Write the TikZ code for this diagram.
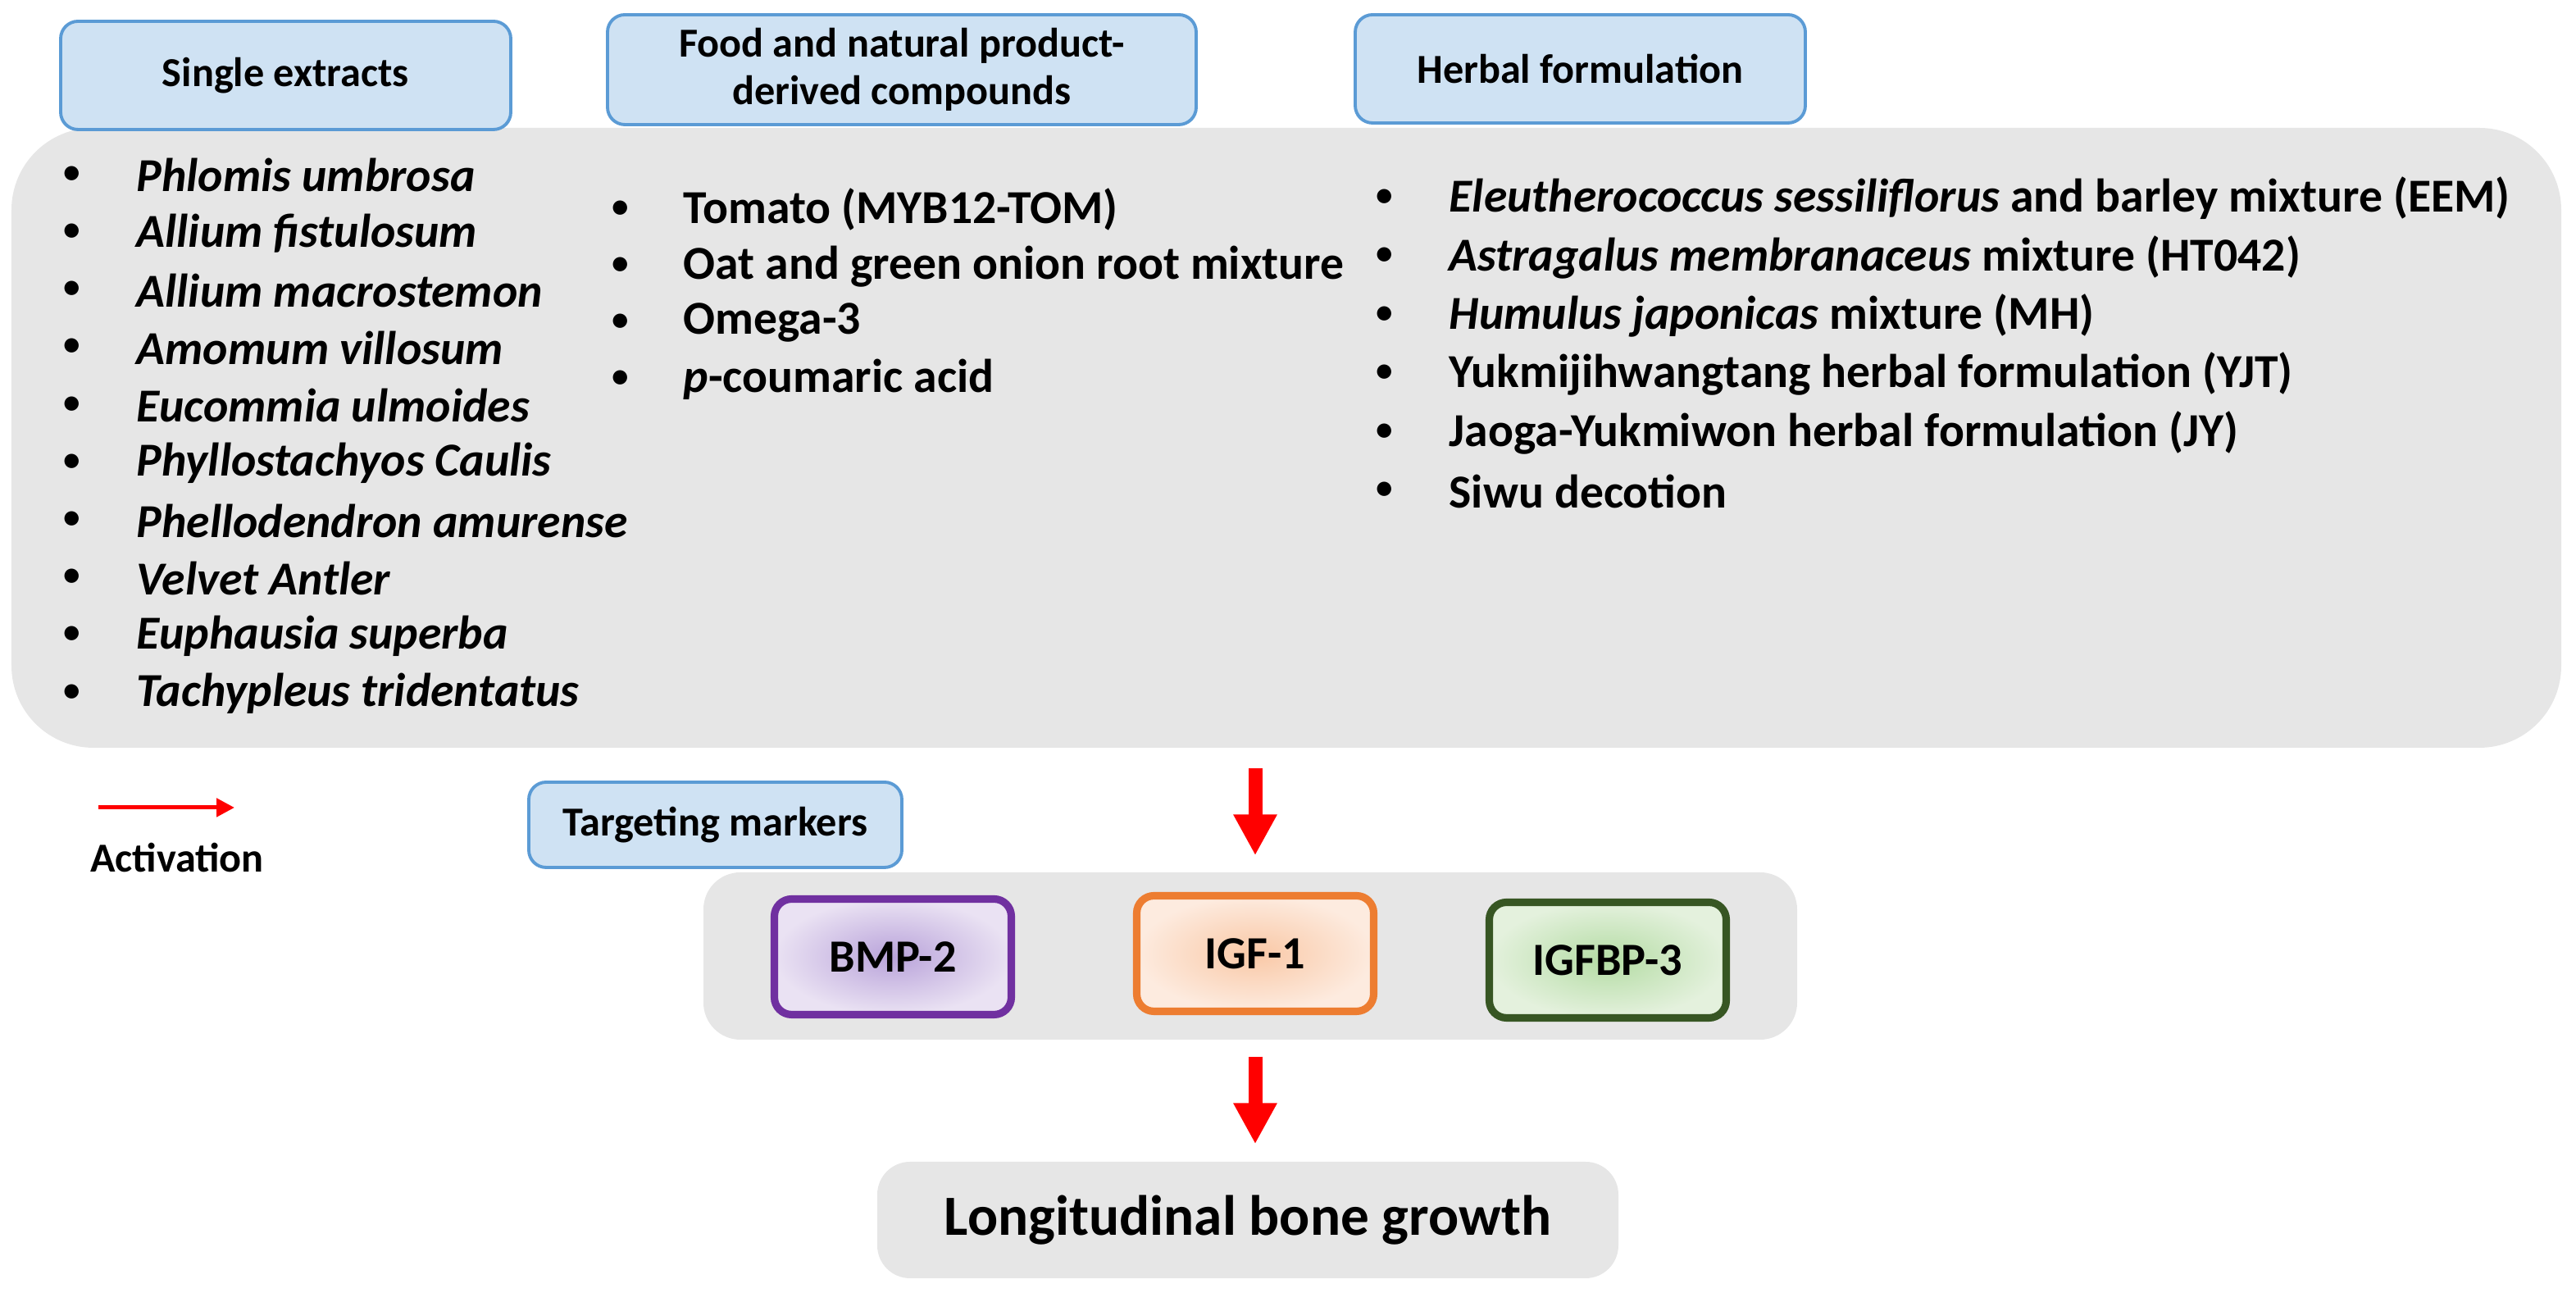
\documentclass[tikz,border=0pt]{standalone}
\usepackage{fontspec}
\setmainfont{Carlito}
\usetikzlibrary{arrows.meta,positioning}
\definecolor{headfill}{HTML}{CFE2F3}
\definecolor{headbd}{HTML}{5B9BD5}
\definecolor{panelgray}{HTML}{E6E6E6}
\definecolor{bmpbd}{HTML}{7030A0}
\definecolor{bmpin}{HTML}{B9A3DA}
\definecolor{bmpout}{HTML}{EAE2F3}
\definecolor{igfbd}{HTML}{ED7D31}
\definecolor{igfin}{HTML}{F9C8A6}
\definecolor{igfout}{HTML}{FDEBDF}
\definecolor{bpbd}{HTML}{375623}
\definecolor{bpin}{HTML}{B4DCA4}
\definecolor{bpout}{HTML}{E4F1DD}

\begin{document}
\begin{tikzpicture}[
  head/.style={draw=headbd,fill=headfill,line width=1.1pt,rounded corners=6pt,
    font=\fontsize{14.3}{16.5}\selectfont\bfseries,align=center,inner sep=0pt},
  pool/.style={fill=panelgray,rounded corners=1cm,inner sep=0pt},
  item/.style={anchor=west,font=\fontsize{16.4}{16.4}\selectfont\bfseries,inner sep=0pt},
  dot/.style={font=\fontsize{14}{14}\selectfont,inner sep=0pt},
  marker/.style={line width=2.6pt,rounded corners=6pt,shading=radial,
    minimum width=2.89cm,minimum height=1.41cm,inner sep=0pt,
    font=\fontsize{16}{16}\selectfont\bfseries},
  act/.style={red,line width=0.17cm,-{Triangle[width=0.5cm,length=0.5cm]}},
  actkey/.style={red,line width=0.05cm,-{Triangle[width=0.22cm,length=0.22cm]}}
]
  \useasboundingbox (0,0) rectangle (31.42,15.77);
  % Big panel of agents
  \node[pool,minimum width=31.1cm,minimum height=7.56cm] (agents) at (15.69,10.43) {};
  % Headers
  \node[head,minimum width=5.49cm,minimum height=1.32cm] (single) at (3.485,14.85)
    {Single extracts};
  \node[head,minimum width=7.18cm,minimum height=1.34cm] (food) at (11.0,14.92)
    {Food and natural product-\\derived compounds};
  \node[head,minimum width=5.49cm,minimum height=1.32cm] (herbal) at (19.275,14.93)
    {Herbal formulation};
  % Single extracts list
  \foreach \txt [count=\i from 0] in {Phlomis umbrosa,Allium fistulosum,
      Allium macrostemon,Amomum villosum,Eucommia ulmoides,Phyllostachyos Caulis,
      Phellodendron amurense,Velvet Antler,Euphausia superba,Tachypleus tridentatus}{
    \node[dot] (sdot\i) at (0.88,13.63-0.702*\i) {\textbullet};
    \node[item] (sitem\i) at (1.66,13.63-0.702*\i) {\itshape\txt};
  }
  % Food list
  \foreach \txt [count=\i from 0] in {Tomato (MYB12-TOM),
      Oat and green onion root mixture,Omega-3,{\textit{p}-coumaric acid}}{
    \node[dot] (fdot\i) at (7.57,13.21-0.69*\i) {\textbullet};
    \node[item] (fitem\i) at (8.33,13.21-0.69*\i) {\txt};
  }
  % Herbal list
  \foreach \txt [count=\i from 0] in {
      {\textit{Eleutherococcus sessiliflorus} and barley mixture (EEM)},
      {\textit{Astragalus membranaceus} mixture (HT042)},
      {\textit{Humulus japonicas} mixture (MH)},
      Yukmijihwangtang herbal formulation (YJT),
      Jaoga-Yukmiwon herbal formulation (JY),Siwu decotion}{
    \node[dot] (hdot\i) at (16.89,13.35-0.715*\i) {\textbullet};
    \node[item] (hitem\i) at (17.67,13.35-0.715*\i) {\txt};
  }
  % Legend
  \coordinate (keyL) at (1.20,5.92);
  \coordinate (keyR) at (2.86,5.92);
  \draw[actkey] (keyL) -- (keyR);
  \node[font=\fontsize{14.3}{14.3}\selectfont\bfseries] (keylbl) at (2.16,5.31) {Activation};
  % Targeting markers
  \node[head,minimum width=4.55cm,minimum height=1.04cm] (target) at (8.725,5.71)
    {Targeting markers};
  \node[pool,rounded corners=0.45cm,minimum width=13.34cm,minimum height=2.04cm]
    (markers) at (15.25,4.11) {};
  \node[marker,draw=bmpbd,inner color=bmpin,outer color=bmpout] (bmp) at (10.89,4.10) {BMP-2};
  \node[marker,draw=igfbd,inner color=igfin,outer color=igfout] (igf) at (15.31,4.14) {IGF-1};
  \node[marker,draw=bpbd,inner color=bpin,outer color=bpout] (igfbp) at (19.61,4.06) {IGFBP-3};
  % Outcome
  \node[pool,rounded corners=0.4cm,minimum width=9.04cm,minimum height=1.42cm,
    font=\fontsize{19.7}{19.7}\selectfont\bfseries] (growth) at (15.22,0.89)
    {Longitudinal bone growth};
  % Arrows
  \draw[act,shorten <=0.24cm,shorten >=0.2cm] (agents.south -| igf) -- (markers.north -| igf);
  \draw[act,shorten <=0.2cm,shorten >=0.21cm] (markers.south -| igf) -- (growth.north -| igf);
\end{tikzpicture}
\end{document}
